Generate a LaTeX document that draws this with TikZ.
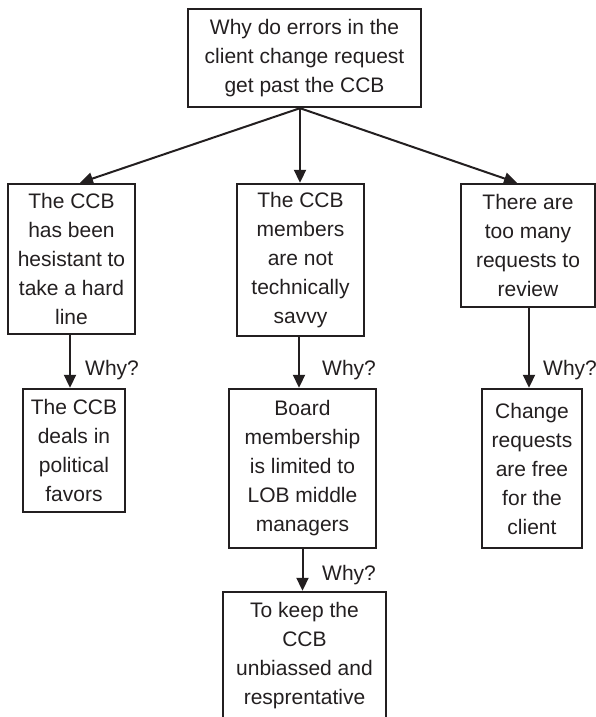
\documentclass[tikz,border=0pt]{standalone}
\usepackage{fontspec}
\setmainfont{Liberation Sans}
\usetikzlibrary{arrows.meta}
\definecolor{ink}{HTML}{231F20}
\begin{document}
\begin{tikzpicture}[x=1pt,y=1pt,
  box/.style={draw=ink, line width=2.4pt, inner sep=0pt, align=center,
    text=ink, font=\fontsize{21}{29}\selectfont},
  link/.style={draw=ink, line width=2pt, -{Triangle[length=13pt,width=12pt]}},
  whylabel/.style={anchor=west, inner sep=0pt, text=ink,
    font=\fontsize{21}{29}\selectfont}]
\useasboundingbox (0,0) rectangle (596,717);
\clip (0,0) rectangle (596,717);

% root question
\node[box, minimum width=233, minimum height=98] (top) at (304.5,659)
  {Why do errors in the\\client change request\\get past the CCB};

% first level causes
\node[box, minimum width=127, minimum height=150] (L1) at (71.5,458)
  {The CCB\\has been\\hesistant to\\take a hard\\line};
\node[box, minimum width=127, minimum height=152] (M1) at (300.5,457)
  {The CCB\\members\\are not\\technically\\savvy};
\node[box, minimum width=134, minimum height=123] (R1) at (528,471.5)
  {There are\\too many\\requests to\\review};

% second level causes
\node[box, minimum width=102, minimum height=123] (L2) at (74,266.5)
  {The CCB\\deals in\\political\\favors};
\node[box, minimum width=147, minimum height=159] (M2) at (302.5,248.5)
  {Board\\membership\\is limited to\\LOB middle\\managers};
\node[box, minimum width=100, minimum height=159] (R2) at (532,248.5)
  {Change\\requests\\are free\\for the\\client};

% third level cause (runs off the lower edge)
\node[box, minimum width=163, minimum height=148] (M3) at (304.5,51)
  {To keep the\\CCB\\unbiassed and\\resprentative\\[-4pt]\mbox{}};

% connectors from the root
\coordinate (hub) at ([xshift=-4.5pt]top.south);
\draw[link] (hub) -- ([xshift=8.5pt]L1.north);
\draw[link] (hub) -- (hub |- M1.north);
\draw[link] (hub) -- ([xshift=-11pt]R1.north);

% "why" connectors
\draw[link] ([xshift=-1.5pt]L1.south) coordinate (la) -- (la |- L2.north);
\draw[link] ([xshift=-1.5pt]M1.south) coordinate (ma) -- (ma |- M2.north);
\draw[link] ([xshift=1pt]R1.south) coordinate (ra) -- (ra |- R2.north);
\draw[link] (M2.south) coordinate (mb) -- (mb |- M3.north);

\node[whylabel] (w1) at (85,347) {Why?};
\node[whylabel] (w2) at (322,347) {Why?};
\node[whylabel] (w3) at (543,347) {Why?};
\node[whylabel] (w4) at (322,142) {Why?};
\end{tikzpicture}
\end{document}
